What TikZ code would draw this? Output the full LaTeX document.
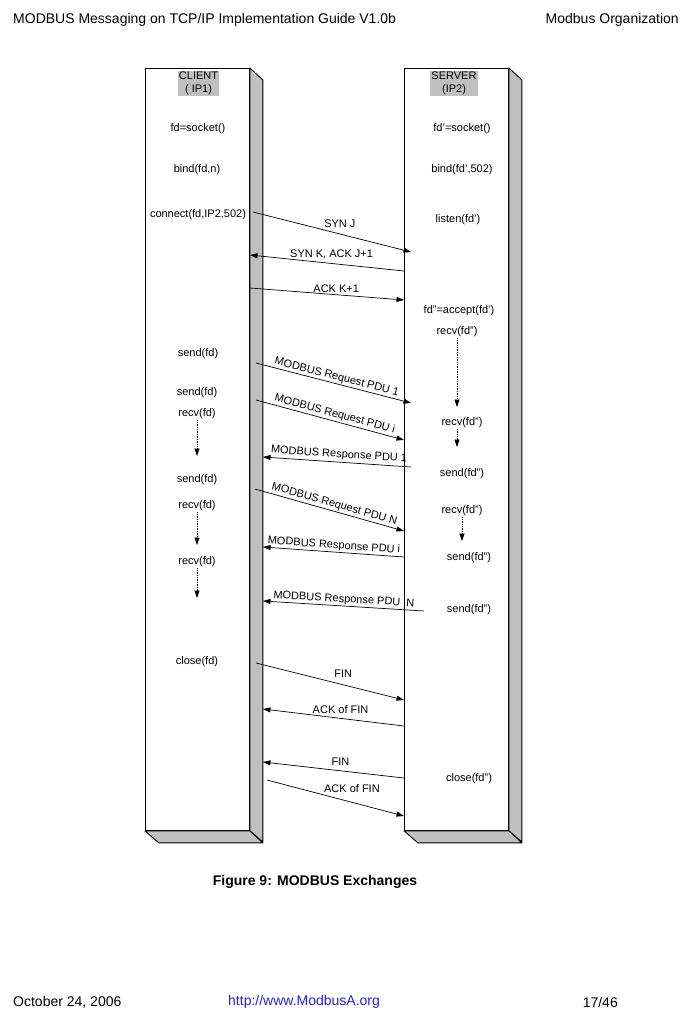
\documentclass[tikz,border=0pt]{standalone}
\usepackage{fontspec}
\setmainfont{Liberation Sans}
\usetikzlibrary{arrows.meta, positioning, calc}
\definecolor{shade}{HTML}{C0C0C0}
\definecolor{linkblue}{HTML}{2020F0}
\tikzset{
  lane/.style={draw=black, fill=white, line width=0.9pt, minimum width=104pt,
               minimum height=762pt, anchor=north west, inner sep=0pt},
  side/.style={draw=black, fill=shade, line width=0.9pt, line join=round},
  head/.style={fill=shade, align=center, inner sep=1pt,
               font=\fontsize{11}{12.5}\selectfont},
  call/.style={inner sep=1pt, yshift=-2pt, font=\fontsize{11}{13}\selectfont},
  lbl/.style={inner sep=1pt, font=\fontsize{11}{13}\selectfont},
  msg/.style={-{Triangle[length=7.5pt, width=5pt]}, line width=0.7pt},
  wait/.style={-{Triangle[length=7.5pt, width=5pt]}, line width=0.7pt, densely dotted},
  page/.style={inner sep=0pt, font=\fontsize{14}{16}\selectfont},
}

\begin{document}
\begin{tikzpicture}[x=1pt, y=-1pt]
  \useasboundingbox (0,0) rectangle (692,1022);

  % page header and footer
  \node[page, anchor=west] (title) at (13,20) {MODBUS Messaging on TCP/IP Implementation Guide V1.0b};
  \node[page, anchor=east] (org) at (679,20) {Modbus Organization};
  \node[page, anchor=west] (date) at (13,1002) {October 24, 2006};
  \node[page, anchor=west, text=linkblue] (url) at (228,1002) {http://www.ModbusA.org};
  \node[page, anchor=east] (pgno) at (618,1002) {17/46};
  \node[page, font=\fontsize{14}{16}\selectfont\bfseries] (cap) at (315,882) {Figure 9: MODBUS Exchanges};

  % the two lanes
  \node[lane] (cli) at (145,68) {};
  \node[lane] (srv) at (404,68) {};
  \foreach \b in {cli, srv} {
    \draw[side] (\b.north east) -- ++(13,12) -- ++(0,762) -- (\b.south east) -- cycle;
    \draw[side] (\b.south west) -- (\b.south east) -- ++(13,12) -- ++(-104,0) -- cycle;
  }
  \node[head] (clihd) at (198.5,83.5) {CLIENT\\( IP1)};
  \node[head] (srvhd) at (454,83.5) {SERVER\\(IP2)};

  % client calls
  \node[call] (csock) at (198,127) {fd=socket()};
  \node[call] (cbind) at (197,168) {bind(fd,n)};
  \node[call] (cconn) at (198,213) {connect(fd,IP2,502)};
  \node[call] (csnd1) at (198,352) {send(fd)};
  \node[call] (csnd2) at (197,391) {send(fd)};
  \node[call] (crcv1) at (197,412) {recv(fd)};
  \node[call] (csnd3) at (197,478) {send(fd)};
  \node[call] (crcv2) at (197,504) {recv(fd)};
  \node[call] (crcv3) at (197,560) {recv(fd)};
  \node[call] (cclose) at (197,660) {close(fd)};

  % server calls
  \node[call] (ssock) at (462,127) {fd'=socket()};
  \node[call] (sbind) at (462,168) {bind(fd',502)};
  \node[call] (slist) at (458,218) {listen(fd')};
  \node[call] (saccp) at (459,309) {fd"=accept(fd')};
  \node[call] (srcv1) at (457,330) {recv(fd")};
  \node[call] (srcv2) at (462,421) {recv(fd")};
  \node[call] (ssnd1) at (462,472) {send(fd")};
  \node[call] (srcv3) at (462,509) {recv(fd")};
  \node[call] (ssnd2) at (469,556) {send(fd")};
  \node[call] (ssnd3) at (469,608) {send(fd")};
  \node[call] (sclose) at (469,777) {close(fd")};

  % waiting on recv
  \coordinate (cw1) at (197,456);
  \coordinate (cw2) at (197,545);
  \coordinate (cw3) at (197,598);
  \coordinate (sw1) at (457,407);
  \coordinate (sw2a) at (457,429);
  \coordinate (sw2b) at (457,447);
  \coordinate (sw3) at (462,541);
  \draw[wait] (crcv1.south) -- (cw1);
  \draw[wait] (crcv2.south) -- (cw2);
  \draw[wait] (crcv3.south) -- (cw3);
  \draw[wait] (srcv1.south) -- (sw1);
  \draw[wait] (sw2a) -- (sw2b);
  \draw[wait] (srcv3.south) -- (sw3);

  % message end points
  \coordinate (synJa) at (253,212);   \coordinate (synJb) at (411,252);
  \coordinate (synKa) at (404,271);   \coordinate (synKb) at (250,255);
  \coordinate (ackKa) at (250,288);   \coordinate (ackKb) at (404,300);
  \coordinate (rq1a) at (256,363);    \coordinate (rq1b) at (411,403);
  \coordinate (rqia) at (256,400);    \coordinate (rqib) at (404,440);
  \coordinate (rs1a) at (411,467);    \coordinate (rs1b) at (263,457);
  \coordinate (rqNa) at (255,489);    \coordinate (rqNb) at (404,531);
  \coordinate (rsia) at (404,557);    \coordinate (rsib) at (263,547);
  \coordinate (rsNa) at (424,611);    \coordinate (rsNb) at (263,601);
  \coordinate (fin1a) at (256,663);   \coordinate (fin1b) at (404,700);
  \coordinate (ack1a) at (404,726);   \coordinate (ack1b) at (263,709);
  \coordinate (fin2a) at (404,778);   \coordinate (fin2b) at (263,762);
  \coordinate (ack2a) at (267,780);   \coordinate (ack2b) at (404,816);

  % connection set-up
  \draw[msg] (synJa) -- node[lbl, pos=0.55, above=5pt] (synJ) {SYN J} (synJb);
  \draw[msg] (synKa) -- node[lbl, pos=0.47, above=3pt] (synK) {SYN K, ACK J+1} (synKb);
  \draw[msg] (ackKa) -- node[lbl, pos=0.56, above=0.5pt] (ackK) {ACK K+1} (ackKb);

  % requests and responses
  \draw[msg] (rq1a) -- node[lbl, pos=0.51, above=0pt, sloped] (rq1) {MODBUS Request PDU 1} (rq1b);
  \draw[msg] (rqia) -- node[lbl, pos=0.52, above=0.5pt, sloped] (rqi) {MODBUS Request PDU i} (rqib);
  \draw[msg] (rs1a) -- node[lbl, pos=0.49, above=1pt, sloped] (rs1) {MODBUS Response PDU 1} (rs1b);
  \draw[msg] (rqNa) -- node[lbl, pos=0.52, above=0.5pt, sloped] (rqN) {MODBUS Request PDU N} (rqNb);
  \draw[msg] (rsia) -- node[lbl, pos=0.5, above=0pt, sloped] (rsi) {MODBUS Response PDU i} (rsib);
  \draw[msg] (rsNa) -- node[lbl, pos=0.5, above=0pt, sloped] (rsN) {MODBUS Response PDU\ \ N} (rsNb);

  % closing
  \draw[msg] (fin1a) -- node[lbl, pos=0.59, above=6pt] (fin1) {FIN} (fin1b);
  \draw[msg] (ack1a) -- node[lbl, pos=0.45, above=3pt] (ack1) {ACK of FIN} (ack1b);
  \draw[msg] (fin2a) -- node[lbl, pos=0.45, above=4pt] (fin2) {FIN} (fin2b);
  \draw[msg] (ack2a) -- node[lbl, pos=0.62, above=8pt] (ack2) {ACK of FIN} (ack2b);
\end{tikzpicture}
\end{document}
